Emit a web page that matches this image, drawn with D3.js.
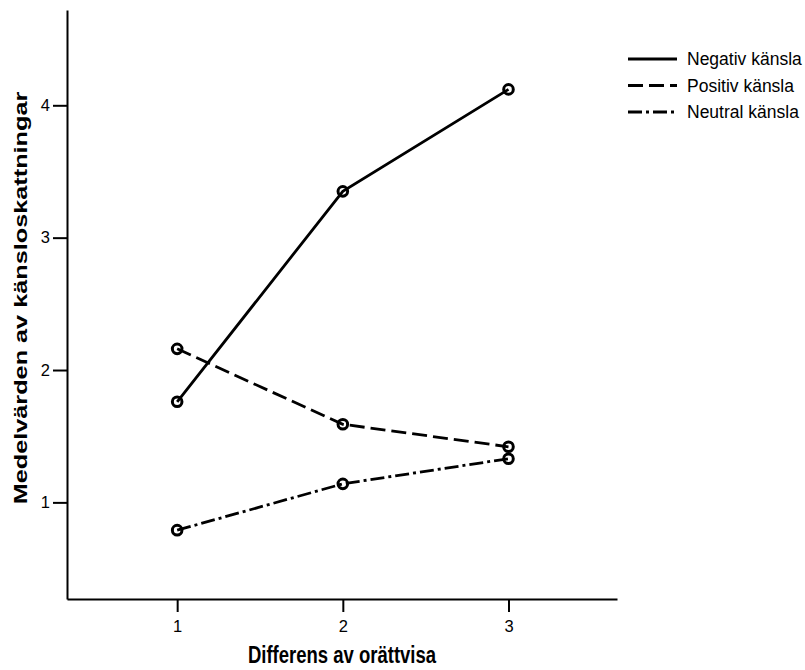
<!DOCTYPE html>
<html><head><meta charset="utf-8">
<script src="https://cdn.jsdelivr.net/npm/d3@7"></script>
<style>body{margin:0;background:#fff}</style>
</head><body>
<svg id="c" width="805" height="670"></svg>
<script>
const categories = [1, 2, 3];
const seriesNames = ["Negativ känsla", "Positiv känsla", "Neutral känsla"];
const negativ = [1.76, 3.35, 4.12];
const positiv = [2.16, 1.59, 1.42];
const neutral = [0.79, 1.14, 1.33];
const yTicks = [1, 2, 3, 4];
const xTicks = [1, 2, 3];
const dashes = [null, "15,6", "14,4,3,4"];
const series = [negativ, positiv, neutral];

const svg = d3.select("#c");
const x = d3.scaleLinear().domain([0.335, 3.655]).range([67, 617]);
const y = d3.scaleLinear().domain([0.27, 4.72]).range([599, 10]);
const font = "Arial, 'Liberation Sans', sans-serif";

const ya = svg.append("g").attr("transform", "translate(67,0)")
  .call(d3.axisLeft(y).tickValues(yTicks).tickFormat(d3.format("d")).tickSize(14).tickPadding(3).tickSizeOuter(0));
const xa = svg.append("g").attr("transform", "translate(0,599)")
  .call(d3.axisBottom(x).tickValues(xTicks).tickFormat(d3.format("d")).tickSize(13).tickPadding(8).tickSizeOuter(0));
[ya, xa].forEach(a => {
  a.attr("font-size", null).attr("font-family", null);
  a.selectAll("path,line").attr("stroke", "#000").attr("stroke-width", 2);
  a.selectAll("text").style("font-family", font).style("font-size", "16.5px").attr("fill", "#000");
});

const line = d3.line().x((d, i) => x(categories[i])).y(d => y(d));
series.forEach((s, k) => {
  svg.append("path").datum(s).attr("d", line).attr("fill", "none")
    .attr("stroke", "#000").attr("stroke-width", 2.8)
    .attr("stroke-dasharray", dashes[k]);
  svg.selectAll(null).data(s).enter().append("circle")
    .attr("cx", (d, i) => x(categories[i])).attr("cy", d => y(d))
    .attr("r", 4.8).attr("fill", "none").attr("stroke", "#000").attr("stroke-width", 3);
});

// legend
seriesNames.forEach((n, k) => {
  const ly = 59 + k * 26.5;
  svg.append("line").attr("x1", 628).attr("x2", 677).attr("y1", ly).attr("y2", ly)
    .attr("stroke", "#000").attr("stroke-width", 3).attr("stroke-dasharray", dashes[k]);
  svg.append("text").attr("x", 687).attr("y", ly).attr("dy", "0.36em")
    .style("font-family", font).style("font-size", "17.5px").text(n);
});

svg.append("text").attr("transform", "translate(342,663) scale(1,1.25)").attr("text-anchor", "middle")
  .style("font-family", font).style("font-size", "18.5px").attr("font-weight", "bold")
  .text("Differens av orättvisa");
svg.append("text").attr("transform", "translate(27,298) rotate(-90) scale(1.33,1)").attr("text-anchor", "middle")
  .style("font-family", font).style("font-size", "19px").attr("font-weight", "bold")
  .text("Medelvärden av känsloskattningar");
</script>
</body></html>
